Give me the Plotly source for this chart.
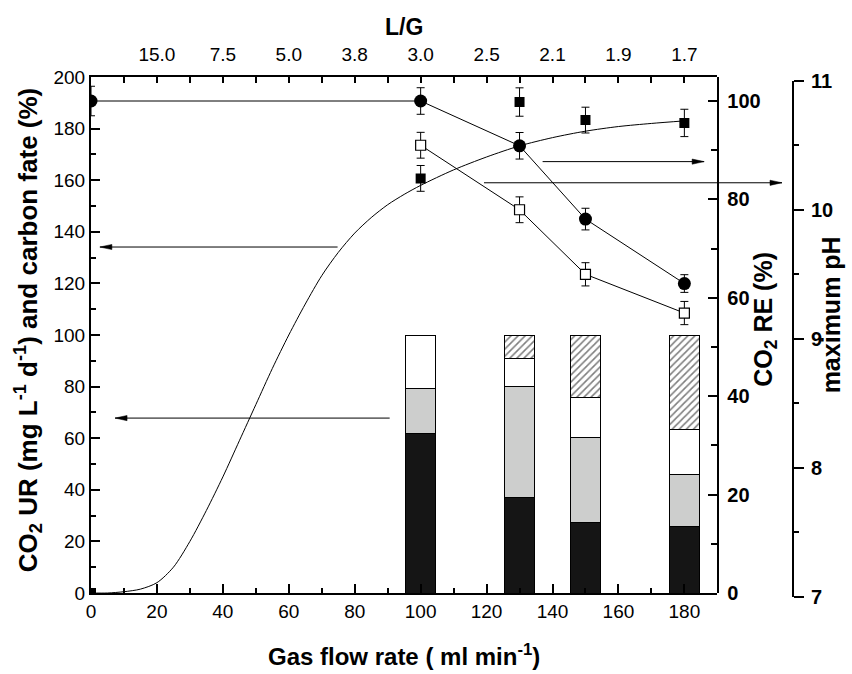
import plotly.graph_objects as go

# ---------------- data ----------------
flow = [100, 130, 150, 180]                      # gas flow rate (ml/min)

# carbon fate (%), stacked bars, bottom -> top
fate_black = [62.0, 37.1, 27.5, 25.6]
fate_gray = [17.1, 43.1, 32.8, 20.5]
fate_white = [20.9, 10.8, 15.5, 17.1]
fate_hatch = [0.0, 9.0, 24.2, 36.8]

# CO2 UR (mg L-1 d-1), filled squares
ur_x = [0, 100, 130, 150, 180]
ur_y = [0.0, 160.7, 190.3, 183.3, 182.2]
ur_err = [None, 5.0, 5.5, 5.0, 5.3]

# fitted CO2 UR curve
fit_x = [0, 5, 10, 15, 20, 25, 30, 35, 40, 45, 50, 55, 60, 65, 70, 75, 80, 85,
         90, 95, 100, 110, 120, 130, 140, 150, 160, 170, 180]
fit_y = [0.0, 0.0, 0.5, 1.5, 4.0, 10.0, 20.0, 32.0, 45.0, 59.0, 73.0, 87.0, 100.0,
         112.0, 123.0, 132.0, 139.5, 145.5, 150.5, 154.5, 158.0, 164.0, 169.0,
         173.3, 176.5, 179.0, 180.8, 182.0, 183.0]

# CO2 RE (%), filled circles
re_x = [0, 100, 130, 150, 180]
re_y = [100.0, 100.0, 90.9, 76.0, 62.9]
re_err = [3.0, 2.7, 2.7, 2.2, 1.8]

# maximum pH, open squares
ph_x = [100, 130, 150, 180]
ph_y = [10.5, 10.0, 9.5, 9.2]
ph_err = [0.1, 0.1, 0.09, 0.09]

# top axis (L/G)
lg_pos = [20, 40, 60, 80, 100, 120, 140, 160, 180]
lg_text = ["15.0", "7.5", "5.0", "3.8", "3.0", "2.5", "2.1", "1.9", "1.7"]

FONT = "Liberation Sans, Arial, sans-serif"

fig = go.Figure()

bar_line = dict(color="black", width=1)
fig.add_trace(go.Bar(x=flow, y=fate_black, width=9, marker=dict(color="#151515", line=bar_line)))
fig.add_trace(go.Bar(x=flow, y=fate_gray, width=9, marker=dict(color="#cdcecd", line=bar_line)))
fig.add_trace(go.Bar(x=flow, y=fate_white, width=9, marker=dict(color="white", line=bar_line)))
fig.add_trace(go.Bar(x=flow, y=fate_hatch, width=9,
                     marker=dict(color="white", line=bar_line,
                                 pattern=dict(shape="/", fgcolor="black", bgcolor="white",
                                              size=5, solidity=0.32))))

fig.add_trace(go.Scatter(x=fit_x, y=fit_y, mode="lines",
                         line=dict(color="black", width=1, shape="spline", smoothing=0.8)))

err_style = dict(type="data", thickness=1, width=4, color="black")

fig.add_trace(go.Scatter(x=ur_x, y=ur_y, mode="markers",
                         marker=dict(symbol="square", size=10, color="black"),
                         error_y=dict(array=ur_err, **err_style)))

fig.add_trace(go.Scatter(x=re_x, y=re_y, yaxis="y2", mode="lines+markers",
                         line=dict(color="black", width=1),
                         marker=dict(symbol="circle", size=13, color="black"),
                         error_y=dict(array=re_err, **err_style)))

fig.add_trace(go.Scatter(x=ph_x, y=ph_y, yaxis="y3", mode="lines+markers",
                         line=dict(color="black", width=1),
                         marker=dict(symbol="square", size=10, color="white",
                                     line=dict(color="black", width=1.2)),
                         error_y=dict(array=ph_err, **err_style)))

# placeholder so the top axis is drawn
fig.add_trace(go.Scatter(x=[None], y=[None], xaxis="x2", yaxis="y", mode="markers", hoverinfo="skip"))

XD = [0, 0.8834]
YD = [4 / 520, 1]
common = dict(showgrid=False, zeroline=False, showline=True, linecolor="black",
              linewidth=2, tickcolor="black", automargin=False)

fig.update_layout(
    width=852, height=674,
    margin=dict(l=91, r=52, t=77, b=77, autoexpand=False),
    plot_bgcolor="rgba(0,0,0,0)", paper_bgcolor="white",
    showlegend=False, barmode="stack",
    font=dict(family=FONT, color="black", size=19),
    xaxis=dict(domain=XD, range=[0, 190], anchor="y", ticks="inside", ticklen=9, tickwidth=2,
               tick0=0, dtick=20, tickfont=dict(size=19),
               minor=dict(ticks="inside", ticklen=5, tickwidth=2, dtick=10, tick0=0),
               **common),
    xaxis2=dict(overlaying="x", side="top", anchor="y", range=[0, 190], ticks="inside",
                ticklen=6, tickwidth=2, tickmode="array", tickvals=lg_pos, ticktext=lg_text,
                tickfont=dict(size=19), ticklabelstandoff=6,
                minor=dict(ticks="inside", ticklen=6, tickwidth=2, tickmode="array",
                           tickvals=[10, 30, 50, 70, 90, 110, 130, 150, 170]),
                **common),
    yaxis=dict(domain=YD, range=[0, 200], anchor="x", ticks="inside", ticklen=9,
               tickwidth=2, tick0=0, dtick=20, tickfont=dict(size=19),
               minor=dict(ticks="inside", ticklen=5, tickwidth=2, dtick=10, tick0=0),
               **common),
    yaxis2=dict(domain=YD, side="right", anchor="x", range=[0, 104.88], ticks="inside",
                ticklen=9, tickwidth=2, tickmode="array", tickvals=[0, 20, 40, 60, 80, 100],
                tickfont=dict(size=20, weight="bold"), ticklabelstandoff=4,
                minor=dict(ticks="inside", ticklen=6, tickwidth=2, tickmode="array",
                           tickvals=[10, 30, 50, 70, 90]),
                **common),
    yaxis3=dict(domain=[0, 0.99288], anchor="free", position=0.990, side="right",
                range=[7, 11], ticks="outside", ticklen=10, tickwidth=2, dtick=1, tick0=7,
                tickfont=dict(size=20, weight="bold"), ticklabelstandoff=3,
                minor=dict(ticks="outside", ticklen=5, tickwidth=2, dtick=0.5, tick0=7),
                **common),
)

# ---- arrows (line + slender filled head drawn in pixels at the tip) ----
def arrow(x_tip, x_tail, y, xref="x", yref="y"):
    d = 1 if x_tip > x_tail else -1
    fig.add_shape(type="line", x0=x_tail, x1=x_tip, y0=y, y1=y, xref=xref, yref=yref,
                  line=dict(color="black", width=1))
    fig.add_shape(type="path", xref=xref, yref=yref, xsizemode="pixel", ysizemode="pixel",
                  xanchor=x_tip, yanchor=y,
                  path=f"M0,0 L{-12 * d},2.6 L{-12 * d},-2.6 Z",
                  fillcolor="black", line=dict(color="black", width=0.5))

arrow(2.7, 74.8, 134.1)
arrow(7.3, 90.6, 67.8)
arrow(186.0, 137.0, 167.2)
arrow(0.9746, 0.5543, 159.0, xref="paper")

ann = [
    dict(text="<b>L/G</b>", x=0.442, y=1.096, xref="paper", yref="paper", showarrow=False,
         font=dict(size=23), xanchor="center", yanchor="middle"),
    dict(text="<b>Gas flow rate ( ml min<sup>-1</sup>)</b>", x=0.442, y=-0.112, xref="paper",
         yref="paper", showarrow=False, font=dict(size=24), xanchor="center", yanchor="middle"),
    dict(text="<b>CO<sub>2</sub> UR (mg L<sup>-1</sup> d<sup>-1</sup>) and carbon fate (%)</b>",
         x=-0.0889, y=0.513, xref="paper", yref="paper", showarrow=False, textangle=-90,
         font=dict(size=26), xanchor="center", yanchor="middle"),
    dict(text="<b>CO<sub>2</sub> RE (%)</b>", x=0.9506, y=0.535, xref="paper", yref="paper",
         showarrow=False, textangle=-90, font=dict(size=25), xanchor="center", yanchor="middle"),
    dict(text="<b>maximum pH</b>", x=1.044, y=0.542, xref="paper", yref="paper",
         showarrow=False, textangle=-90, font=dict(size=25), xanchor="center", yanchor="middle"),
]
fig.update_layout(annotations=ann)

fig.write_html("out.html")
